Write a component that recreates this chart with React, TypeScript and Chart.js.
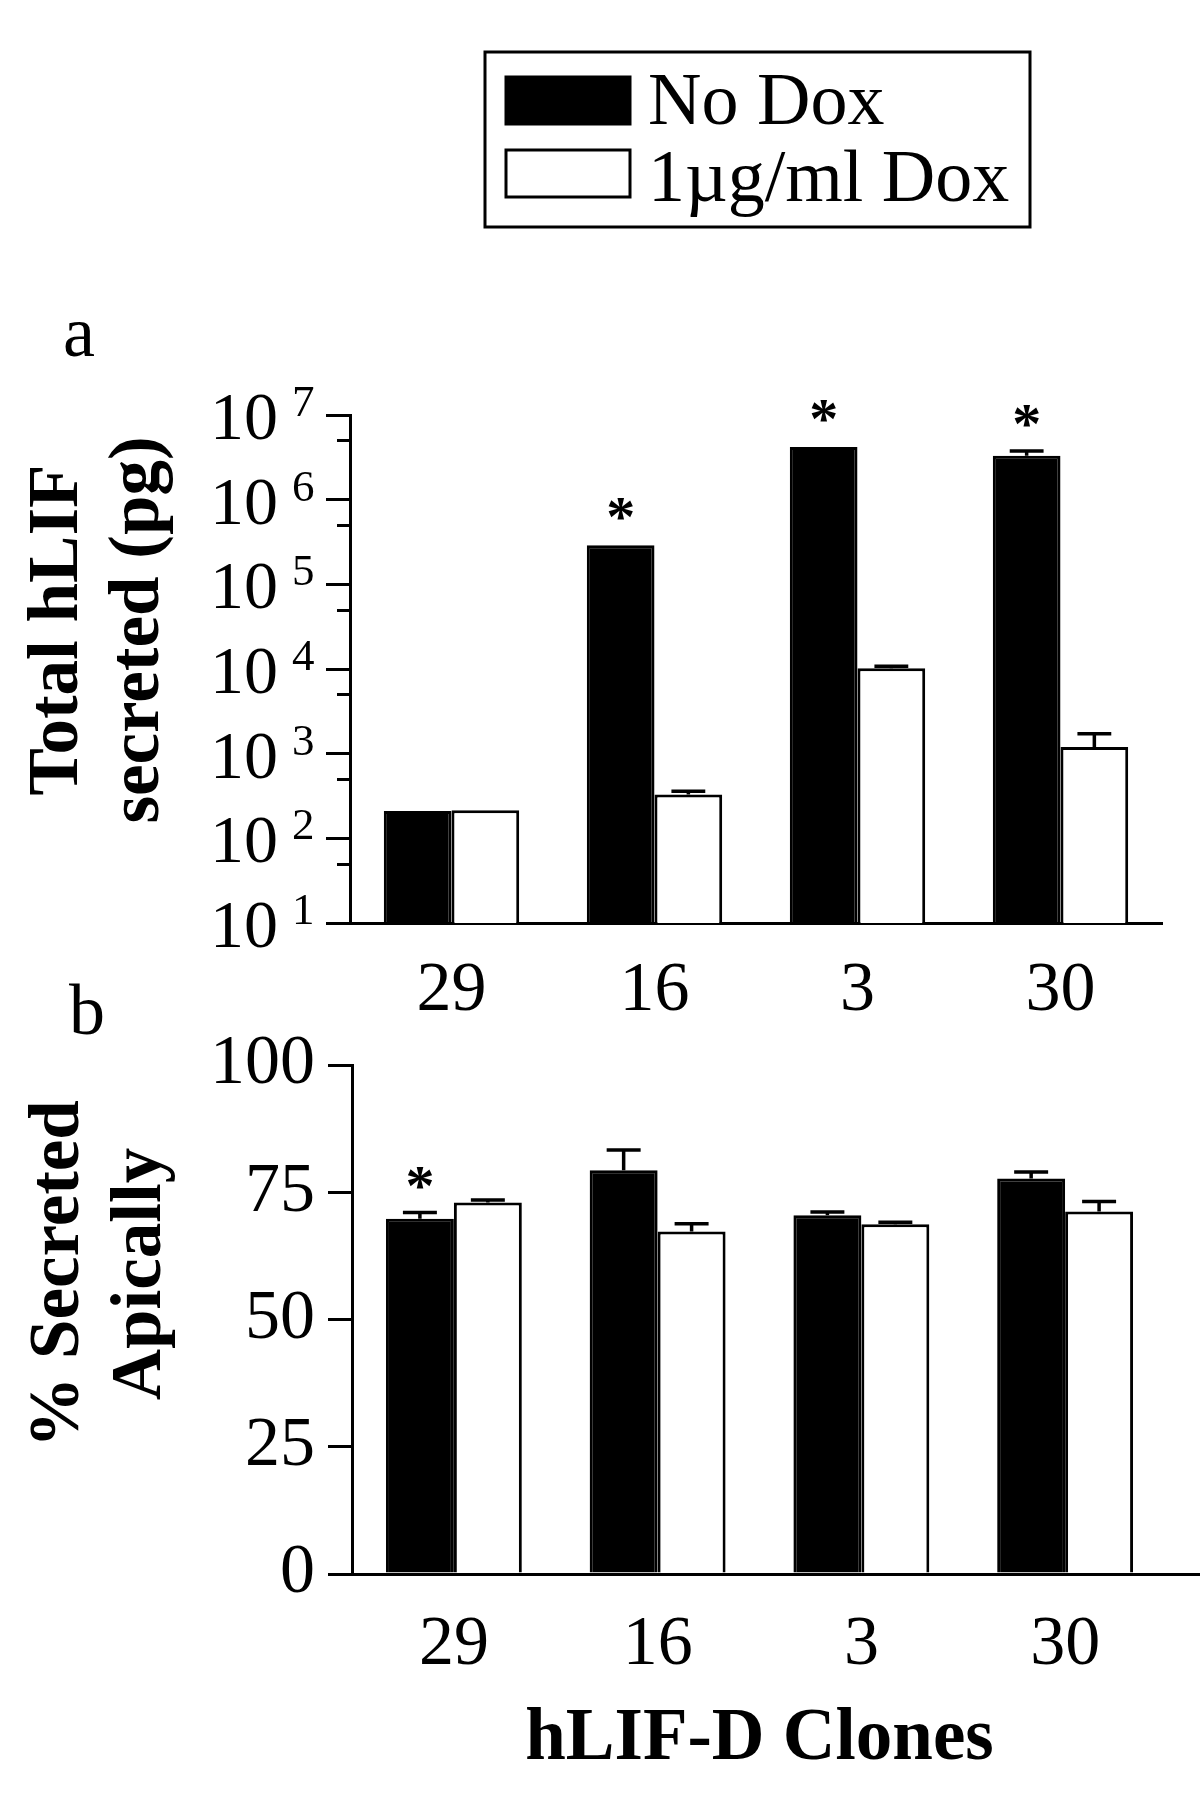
import React, { useEffect, useRef } from 'react';
import { Chart, registerables } from 'chart.js';

Chart.register(...registerables);

const FONT = '"Liberation Serif", "Times New Roman", "DejaVu Serif", serif';

// ---- shared ----
const clones = ['29', '16', '3', '30'];
const seriesNames = ['No Dox', '1µg/ml Dox'];
const seriesFill = ['#000000', '#ffffff'];

// ---- panel a: total hLIF secreted (pg), log scale ----
const totalNoDox = [210, 290000, 4200000, 3300000];
const totalNoDoxSem = [5, 8000, 100000, 450000];
const totalDox = [215, 330, 10200, 1200];
const totalDoxSem = [5, 30, 600, 520];
const totalSignificant = [false, true, true, true];
const logMajorTicks = [10, 100, 1000, 10000, 100000, 1000000, 10000000];
const logMinorTicks = [50, 500, 5000, 50000, 500000, 5000000];
const logLabelExponents = [1, 2, 3, 4, 5, 6, 7];
const totalTitle = ['Total hLIF', 'secreted (pg)'];

// ---- panel b: % secreted apically ----
const apicalNoDox = [69.8, 79.3, 70.5, 77.7];
const apicalNoDoxSem = [1.2, 4.0, 0.6, 1.3];
const apicalDox = [73.0, 67.3, 68.7, 71.2];
const apicalDoxSem = [0.5, 1.5, 0.4, 2.0];
const apicalSignificant = [true, false, false, false];
const apicalTicks = [0, 25, 50, 75, 100];
const apicalTitle = ['% Secreted', 'Apically'];
const xTitle = 'hLIF-D Clones';

function errorBarPlugin(id: string, sems: number[][], sig: boolean[]) {
  return {
    id,
    afterDatasetsDraw(chart: any) {
      const ctx = chart.ctx;
      const y = chart.scales.y;
      ctx.save();
      ctx.strokeStyle = '#000';
      ctx.lineWidth = 3.5;
      chart.data.datasets.forEach((ds: any, di: number) => {
        const meta = chart.getDatasetMeta(di);
        meta.data.forEach((el: any, i: number) => {
          const v = ds.data[i];
          const top = y.getPixelForValue(v + sems[di][i]);
          const barTop = el.y;
          const cap = el.width * 0.5;
          if (barTop - top > 1.5) {
            ctx.beginPath();
            ctx.moveTo(el.x, barTop);
            ctx.lineTo(el.x, top);
            ctx.moveTo(el.x - cap / 2, top);
            ctx.lineTo(el.x + cap / 2, top);
            ctx.stroke();
          }
          if (di === 0 && sig[i]) {
            ctx.fillStyle = '#000';
            ctx.font = `bold 58px ${FONT}`;
            ctx.textAlign = 'center';
            ctx.textBaseline = 'alphabetic';
            ctx.fillText('*', el.x, Math.min(top, barTop) - 38 + 0.52 * 58);
          }
        });
      });
      ctx.restore();
    },
  };
}

// lines drawn rotated -90deg; baselineXs are page x of each line's baseline
function drawRotatedLines(ctx: CanvasRenderingContext2D, lines: string[], baselineXs: number[], cy: number, size: number) {
  lines.forEach((t, i) => {
    ctx.save();
    ctx.translate(baselineXs[i], cy);
    ctx.rotate(-Math.PI / 2);
    ctx.font = `bold ${size}px ${FONT}`;
    ctx.fillStyle = '#000';
    ctx.textAlign = 'center';
    ctx.textBaseline = 'alphabetic';
    ctx.fillText(t, 0, 0);
    ctx.restore();
  });
}

const panelAPlugin = {
  id: 'panelADecor',
  afterDraw(chart: any) {
    const ctx = chart.ctx as CanvasRenderingContext2D;
    const y = chart.scales.y;
    const left = chart.chartArea.left;
    ctx.save();
    ctx.fillStyle = '#000';
    ctx.strokeStyle = '#000';
    // short minor ticks at 5 x 10^n
    ctx.lineWidth = 3;
    logMinorTicks.forEach((v) => {
      const py = Math.round(y.getPixelForValue(v)) + 0.5;
      ctx.beginPath();
      ctx.moveTo(left - 13, py);
      ctx.lineTo(left, py);
      ctx.stroke();
    });
    // log tick labels 10^n
    logLabelExponents.forEach((e) => {
      const py = y.getPixelForValue(Math.pow(10, e));
      ctx.font = `68px ${FONT}`;
      ctx.textAlign = 'right';
      ctx.textBaseline = 'alphabetic';
      ctx.fillText('10', 278, py + 24);
      ctx.font = `45px ${FONT}`;
      ctx.textAlign = 'left';
      ctx.fillText(String(e), 292, py + 1);
    });
    // panel letter
    ctx.font = `72px ${FONT}`;
    ctx.textAlign = 'left';
    ctx.fillText('a', 63, 356);
    // y title
    drawRotatedLines(ctx, totalTitle, [77, 158], 630, 71);
    // legend
    ctx.lineWidth = 3;
    ctx.strokeRect(485, 52, 545, 175);
    const swY = [77, 150];
    const txY = [124, 201];
    chart.data.datasets.forEach((ds: any, i: number) => {
      ctx.fillStyle = ds.backgroundColor;
      ctx.fillRect(506, swY[i], 124, 47);
      ctx.strokeRect(506, swY[i], 124, 47);
      ctx.fillStyle = '#000';
      ctx.font = `74px ${FONT}`;
      ctx.textAlign = 'left';
      ctx.fillText(ds.label, 648, txY[i]);
    });
    ctx.restore();
  },
};

const panelBPlugin = {
  id: 'panelBDecor',
  afterDraw(chart: any) {
    const ctx = chart.ctx as CanvasRenderingContext2D;
    const area = chart.chartArea;
    ctx.save();
    // x axis line runs on to the right edge
    ctx.strokeStyle = '#000';
    ctx.lineWidth = 3;
    ctx.beginPath();
    ctx.moveTo(area.left, area.bottom + 0.5);
    ctx.lineTo(chart.width, area.bottom + 0.5);
    ctx.stroke();
    ctx.fillStyle = '#000';
    ctx.font = `72px ${FONT}`;
    ctx.textAlign = 'left';
    ctx.textBaseline = 'alphabetic';
    ctx.fillText('b', 69, 74);
    drawRotatedLines(ctx, apicalTitle, [78, 160], 314, 71);
    ctx.restore();
  },
};

function baseBarDatasets(a: number[], b: number[]) {
  return [a, b].map((d, i) => ({
    label: seriesNames[i],
    data: d,
    backgroundColor: seriesFill[i],
    borderColor: '#000',
    borderWidth: 3,
    borderSkipped: 'bottom' as const,
    categoryPercentage: 0.667,
    barPercentage: 1.0,
  }));
}

export default function App() {
  const refA = useRef<HTMLCanvasElement>(null);
  const refB = useRef<HTMLCanvasElement>(null);

  useEffect(() => {
    const chartA = new Chart(refA.current as HTMLCanvasElement, {
      type: 'bar',
      data: { labels: clones, datasets: baseBarDatasets(totalNoDox, totalDox) },
      options: {
        animation: false,
        responsive: false,
        maintainAspectRatio: false,
        devicePixelRatio: 1,
        events: [],
        layout: { padding: { left: 0, top: 415, right: 38, bottom: 0 } },
        plugins: { legend: { display: false }, tooltip: { enabled: false } },
        scales: {
          x: {
            type: 'category',
            offset: true,
            grid: { display: false, drawTicks: false },
            border: { display: true, width: 3, color: '#000' },
            ticks: { color: '#000', font: { family: FONT, size: 70 }, padding: 27 },
            afterFit: (s: any) => { s.height = 117; },
          },
          y: {
            type: 'logarithmic',
            min: 10,
            max: 10000000,
            grid: { drawOnChartArea: false, drawTicks: true, tickLength: 24, lineWidth: 3, color: '#000' },
            border: { display: true, width: 3, color: '#000' },
            ticks: { display: false },
            afterBuildTicks: (s: any) => { s.ticks = logMajorTicks.map((v) => ({ value: v })); },
            afterFit: (s: any) => { s.width = 350; },
          },
        },
      },
      plugins: [errorBarPlugin('errA', [totalNoDoxSem, totalDoxSem], totalSignificant), panelAPlugin],
    } as any);

    const chartB = new Chart(refB.current as HTMLCanvasElement, {
      type: 'bar',
      data: { labels: clones, datasets: baseBarDatasets(apicalNoDox, apicalDox) },
      options: {
        animation: false,
        responsive: false,
        maintainAspectRatio: false,
        devicePixelRatio: 1,
        events: [],
        layout: { padding: { left: 0, top: 105, right: 33, bottom: 0 } },
        plugins: { legend: { display: false }, tooltip: { enabled: false } },
        scales: {
          x: {
            type: 'category',
            offset: true,
            grid: { display: false, drawTicks: false },
            border: { display: true, width: 3, color: '#000' },
            ticks: { color: '#000', font: { family: FONT, size: 70 }, padding: 30 },
            title: {
              display: true,
              text: xTitle,
              color: '#000',
              font: { family: FONT, size: 73, weight: 'bold' },
              padding: { top: 0, bottom: 15 },
            },
            afterFit: (s: any) => { s.height = 225; },
          },
          y: {
            type: 'linear',
            min: 0,
            max: 100,
            grid: { drawOnChartArea: false, drawTicks: true, tickLength: 24, lineWidth: 3, color: '#000' },
            border: { display: true, width: 3, color: '#000' },
            ticks: { color: '#000', font: { family: FONT, size: 70 }, padding: 13 },
            afterBuildTicks: (s: any) => { s.ticks = apicalTicks.map((v) => ({ value: v })); },
            afterFit: (s: any) => { s.width = 352; },
          },
        },
      },
      plugins: [errorBarPlugin('errB', [apicalNoDoxSem, apicalDoxSem], apicalSignificant), panelBPlugin],
    } as any);

    return () => {
      chartA.destroy();
      chartB.destroy();
    };
  }, []);

  return (
    <div style={{ position: 'absolute', left: 0, top: 0, width: 1200, height: 1799, background: '#fff' }}>
      <canvas ref={refA} width={1200} height={1040} style={{ position: 'absolute', left: 0, top: 0 }} />
      <canvas ref={refB} width={1200} height={839} style={{ position: 'absolute', left: 0, top: 960 }} />
    </div>
  );
}
